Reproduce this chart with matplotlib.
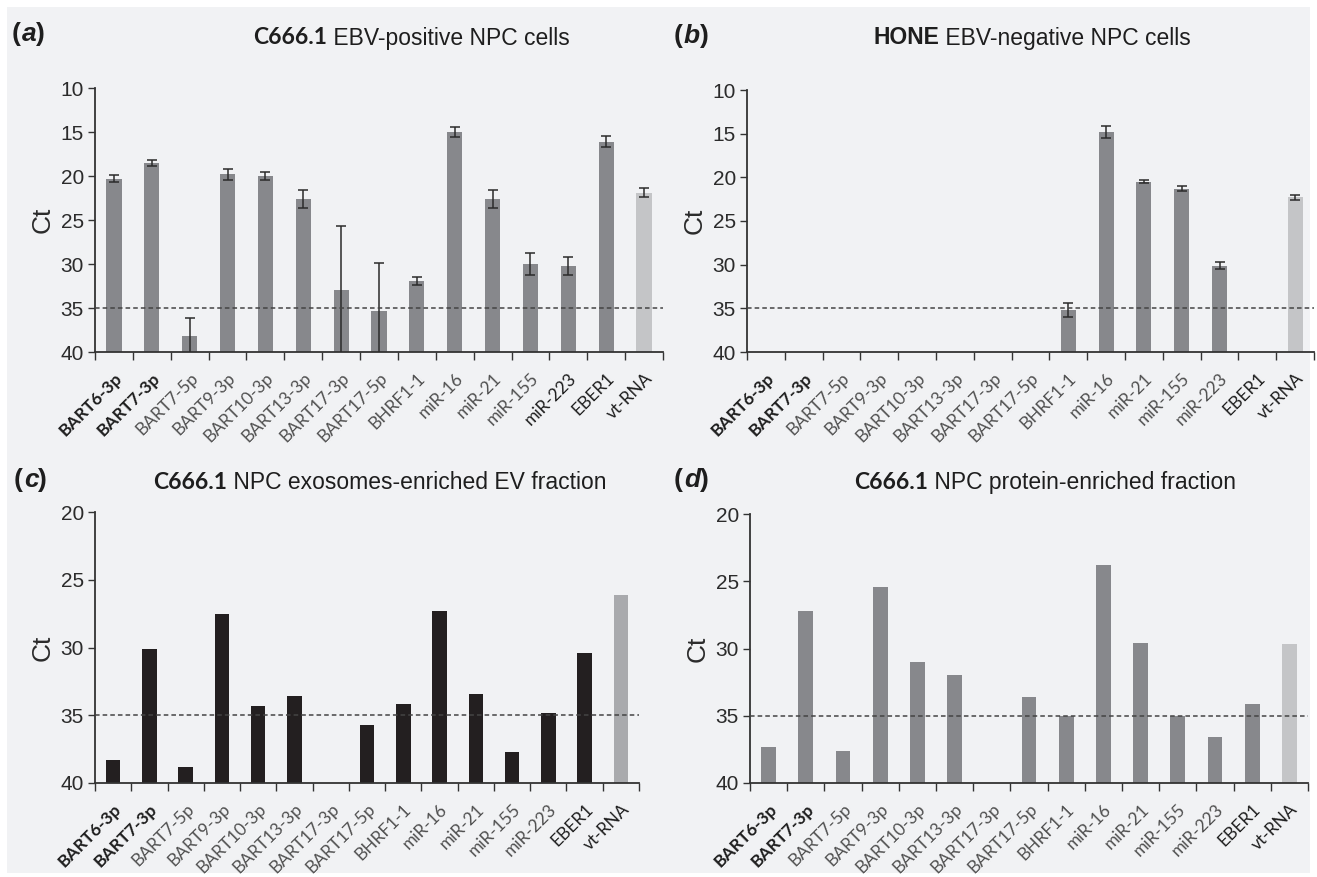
import numpy as np
import matplotlib.pyplot as plt
from matplotlib.patches import Rectangle

# categories (x axis, same for all four panels)
targets = ['BART6-3p', 'BART7-3p', 'BART7-5p', 'BART9-3p', 'BART10-3p', 'BART13-3p',
           'BART17-3p', 'BART17-5p', 'BHRF1-1', 'miR-16', 'miR-21', 'miR-155',
           'miR-223', 'EBER1', 'vt-RNA']

# (a) C666.1 cells, Ct mean and error
ct_a = [20.3, 18.5, 38.2, 19.8, 20.0, 22.6, 33.0, 35.3, 31.9, 15.0, 22.6, 30.0, 30.2, 16.1, 21.9]
err_a = [0.4, 0.35, 2.1, 0.65, 0.4, 1.0, 7.3, 5.45, 0.45, 0.55, 1.0, 1.2, 1.0, 0.6, 0.5]

# (b) HONE cells (40 = not detected)
ct_b = [40, 40, 40, 40, 40, 40, 40, 40, 35.2, 14.8, 20.5, 21.3, 30.1, 40, 22.3]
err_b = [0, 0, 0, 0, 0, 0, 0, 0, 0.8, 0.7, 0.15, 0.3, 0.45, 0, 0.3]

# (c) exosomes-enriched EV fraction
ct_c = [38.3, 30.1, 38.8, 27.5, 34.3, 33.6, 40, 35.7, 34.2, 27.3, 33.4, 37.7, 34.8, 30.4, 26.1]

# (d) protein-enriched fraction
ct_d = [37.3, 27.2, 37.6, 25.4, 31.0, 32.0, 40, 33.6, 35.0, 23.8, 29.6, 35.0, 36.6, 34.1, 29.7]

cutoff = 35

fig = plt.figure(figsize=(13.17, 8.77), dpi=100)
fig.patch.set_facecolor('white')
fig.add_artist(Rectangle((7 / 1317, 4 / 877), 1303 / 1317, 866 / 877,
                         transform=fig.transFigure, facecolor='#f1f2f4',
                         edgecolor='none', zorder=-10))

W, H = 1317, 877


def px_axes(left, right, top, bottom):
    return fig.add_axes([left / W, 1 - bottom / H, (right - left) / W, (bottom - top) / H])


def draw_panel(ax, vals, errs, ylo, color, vt_color, dark_labels):
    x = np.arange(len(targets))
    v = np.array(vals, dtype=float)
    colors = [color] * (len(targets) - 1) + [vt_color]
    ax.bar(x, v - 40, bottom=40, width=0.4, color=colors, zorder=2)
    if errs is not None:
        e = np.array(errs, dtype=float)
        m = e > 0
        ax.errorbar(x[m], v[m], yerr=e[m], fmt='none', ecolor='#2b2b2b',
                    elinewidth=1.1, capsize=3.5, capthick=1.1, zorder=3)
    ax.axhline(cutoff, color='#444444', lw=1.1, ls=(0, (3, 2)), zorder=4)
    ax.set_xlim(-0.5, len(targets) - 0.5)
    ax.set_ylim(40, ylo)
    ax.set_yticks(np.arange(ylo, 41, 5))
    ax.set_facecolor('none')
    for s in ['top', 'right']:
        ax.spines[s].set_visible(False)
    for s in ['left', 'bottom']:
        ax.spines[s].set_color('#333333')
        ax.spines[s].set_linewidth(1.3)
    # ticks on category boundaries, labels at centres
    ax.set_xticks(np.arange(-0.5, len(targets), 1.0))
    ax.set_xticklabels([])
    ax.set_xticks(x, minor=True)
    ax.set_xticklabels(targets, minor=True, rotation=45, ha='right',
                       rotation_mode='anchor', fontsize=12.5, family='Lato')
    ax.tick_params(axis='x', which='major', length=6, width=1, color='#333333', direction='out')
    ax.tick_params(axis='x', which='minor', length=0, pad=13)
    ax.tick_params(axis='y', length=5, width=1, color='#333333', labelsize=15,
                   labelcolor='#2b2b2b', pad=3)
    for lab in ax.get_yticklabels():
        lab.set_family('Liberation Sans')
    for i, lab in enumerate(ax.get_xticklabels(minor=True)):
        if i < 2:
            lab.set_fontweight('bold')
            lab.set_color('#1e1e1e')
        elif targets[i] in dark_labels:
            lab.set_color('#1e1e1e')
        else:
            lab.set_color('#505050')
    ax.set_ylabel('Ct', fontsize=19, family='Liberation Sans', color='#2b2b2b', labelpad=4)


gray = '#87888c'
light = '#c4c5c7'

ax_a = px_axes(95, 663, 88, 352)
draw_panel(ax_a, ct_a, err_a, 10, gray, light, ['miR-223', 'EBER1', 'vt-RNA'])

ax_b = px_axes(747, 1314, 90, 352)
draw_panel(ax_b, ct_b, err_b, 10, gray, light, ['EBER1', 'vt-RNA'])

ax_c = px_axes(95, 639, 512, 783)
draw_panel(ax_c, ct_c, None, 20, '#231f20', '#a9aaad', ['EBER1', 'vt-RNA'])

ax_d = px_axes(750, 1308, 514, 783)
draw_panel(ax_d, ct_d, None, 20, gray, light, ['EBER1', 'vt-RNA'])

renderer = fig.canvas.get_renderer()


def panel_title(cx, y, bold, rest, bold_family='Lato'):
    # bold cell-line name followed by plain description, centred as one line
    t1 = fig.text(0, 1 - y / H, bold, fontsize=16.5, fontweight='bold',
                  family=bold_family, color='#1e1e1e', ha='left', va='center')
    t2 = fig.text(0, 1 - y / H, ' ' + rest, fontsize=16.5, family='Liberation Sans',
                  color='#1e1e1e', ha='left', va='center')
    w1 = t1.get_window_extent(renderer).width
    w2 = t2.get_window_extent(renderer).width
    x0 = cx - (w1 + w2) / 2
    t1.set_x(x0 / W)
    t2.set_x((x0 + w1) / W)


def panel_letter(x, y, letter):
    kw = dict(fontsize=19, fontweight='bold', family='Liberation Sans',
              color='#1e1e1e', ha='left', va='center')
    a = fig.text(x / W, 1 - y / H, '(', **kw)
    wa = a.get_window_extent(renderer).width
    b = fig.text((x + wa + 1) / W, 1 - y / H, letter, style='italic', **kw)
    wb = b.get_window_extent(renderer).width
    fig.text((x + wa + wb + 1) / W, 1 - y / H, ')', **kw)


panel_letter(12, 34, 'a')
panel_title(411, 38, 'C666.1', 'EBV-positive NPC cells')
panel_letter(674, 36, 'b')
panel_title(1032, 38, 'HONE', 'EBV-negative NPC cells', bold_family='Liberation Sans')
panel_letter(14, 480, 'c')
panel_title(380, 482, 'C666.1', 'NPC exosomes-enriched EV fraction')
panel_letter(674, 480, 'd')
panel_title(1045, 482, 'C666.1', 'NPC protein-enriched fraction')

fig.savefig('out.png', dpi=100, facecolor=fig.get_facecolor())
